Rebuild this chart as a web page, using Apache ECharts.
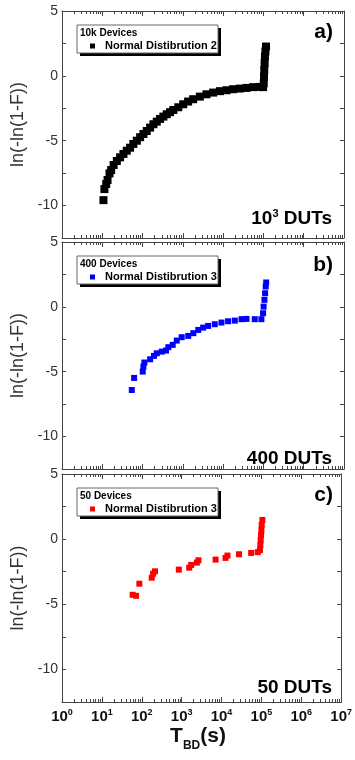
<!DOCTYPE html>
<html>
<head>
<meta charset="utf-8">
<script src="https://cdn.jsdelivr.net/npm/echarts@6/dist/echarts.min.js"></script>
<style>
  html, body { margin: 0; padding: 0; background: #fff; }
  #chart { width: 355px; height: 760px; }
</style>
</head>
<body>
<div id="chart"></div>
<script>
// Weibull plots of T_BD: [T_BD (s), ln(-ln(1-F))]
const pointsA = [
  [10.7, -9.58], [11.3, -8.73], [12.5, -8.34], [13.5, -8.03], [15.1, -7.52], [16.6, -7.26],
  [19.1, -6.87], [23, -6.56], [27.7, -6.28], [33.5, -6.02], [40.5, -5.77], [49, -5.54],
  [59, -5.25], [72, -5.0], [87, -4.73], [105, -4.48], [127, -4.25], [154, -3.99],
  [186, -3.73], [225, -3.53], [272, -3.32], [329, -3.14], [398, -2.96], [481, -2.8],
  [581, -2.63], [770, -2.42], [1020, -2.19], [1350, -1.98], [1800, -1.8], [2640, -1.6],
  [3870, -1.42], [5650, -1.29], [8300, -1.18], [12100, -1.11], [17700, -1.03], [25900, -0.98],
  [38000, -0.93], [55400, -0.87], [81000, -0.85], [98000, -0.87], [102000, -0.57], [103500, -0.05],
  [105000, 0.46], [107000, 0.98], [109000, 1.49], [112000, 1.88], [116000, 2.26]
];
const pointsB = [
  [54, -6.41], [61.6, -5.48], [101, -4.99], [105, -4.6], [111, -4.29], [154, -4.04],
  [192, -3.78], [225, -3.58], [299, -3.45], [382, -3.37], [436, -3.11], [560, -2.93],
  [705, -2.6], [935, -2.34], [1360, -2.24], [1820, -2.03], [2410, -1.78], [3190, -1.6],
  [4230, -1.47], [6200, -1.34], [9100, -1.21], [13300, -1.11], [19500, -1.06], [28600, -0.95],
  [38000, -0.93], [61000, -0.95], [89000, -0.95], [98000, -0.49], [101000, 0.02], [106000, 0.54],
  [110000, 1.05], [114000, 1.57], [117000, 1.88]
];
const pointsC = [
  [59, -4.27], [72, -4.35], [87, -3.42], [178, -2.96], [192, -2.65], [215, -2.47],
  [850, -2.34], [1550, -2.19], [1740, -1.98], [2410, -1.8], [2640, -1.62], [7100, -1.57],
  [12600, -1.44], [14100, -1.26], [27400, -1.16], [55400, -1.06], [81000, -1.0], [92000, -0.85],
  [94000, -0.46], [96000, -0.08], [98000, 0.31], [100000, 0.69], [101600, 1.08], [106000, 1.47]
];

const panelData = [pointsA, pointsB, pointsC];
const panelColors = ['#000000', '#0000ff', '#ff0000'];
const panelTags = ['a)', 'b)', 'c)'];
const dutLabels = ['{t|10}{sup|3}{t| DUTs}', '{t|400 DUTs}', '{t|50 DUTs}'];
const legendTitles = ['10k Devices', '400 Devices', '50 Devices'];
const seriesNames = ['Normal Distibrution 2', 'Normal Distibrution 3', 'Normal Distibrution 3'];
const xRange = [1, 1e7];
const yRange = [-12.5, 5];

const FONT = 'Arial, "Liberation Sans", sans-serif';
const AXIS_COLOR = '#444';
const gridTops = [11, 242, 474];
const gridHeights = [227, 227, 228];
const gridLeft = 62;
const gridRight = 11;
const tagY = [32, 265, 495];
const dutY = [219, 459, 688];

const grids = [], xAxes = [], yAxes = [], series = [], graphics = [];

panelData.forEach((pts, i) => {
  grids.push({ left: gridLeft, right: gridRight, top: gridTops[i], height: gridHeights[i], show: false });
  const isLast = i === panelData.length - 1;
  const xBase = {
    type: 'log', logBase: 10, min: xRange[0], max: xRange[1], splitNumber: 7, gridIndex: i,
    axisLine: { show: true, onZero: false, lineStyle: { color: AXIS_COLOR, width: 1 } },
    axisTick: { show: true, inside: true, length: 5, lineStyle: { color: AXIS_COLOR } },
    minorTick: { show: true, splitNumber: 9, length: 3, lineStyle: { color: AXIS_COLOR } },
    splitLine: { show: false }
  };
  xAxes.push(Object.assign({}, xBase, {
    position: 'bottom',
    axisLabel: {
      show: isLast, margin: 6, fontFamily: FONT,
      formatter: v => '{b|10}{s|' + Math.round(Math.log10(v)) + '}',
      rich: {
        b: { fontSize: 15, fontWeight: 'bold', color: '#111', fontFamily: FONT, lineHeight: 18 },
        s: { fontSize: 9, fontWeight: 'bold', color: '#111', fontFamily: FONT, verticalAlign: 'top', lineHeight: 18 }
      }
    }
  }));
  xAxes.push(Object.assign({}, xBase, { position: 'top', axisLabel: { show: false } }));

  const yBase = {
    type: 'value', min: yRange[0], max: yRange[1], interval: 2.5, gridIndex: i,
    axisLine: { show: true, onZero: false, lineStyle: { color: AXIS_COLOR, width: 1 } },
    axisTick: { show: true, inside: true, length: 4, lineStyle: { color: AXIS_COLOR } },
    splitLine: { show: false }
  };
  yAxes.push(Object.assign({}, yBase, {
    position: 'left',
    name: 'ln(-ln(1-F))', nameLocation: 'middle', nameGap: 31,
    nameTextStyle: { fontSize: 18, color: '#333', fontFamily: FONT },
    axisLabel: {
      margin: 4, fontSize: 14, color: '#333', fontFamily: FONT,
      showMinLabel: true, showMaxLabel: true,
      formatter: v => (v % 5 === 0 ? String(v) : '')
    }
  }));
  yAxes.push(Object.assign({}, yBase, { position: 'right', axisLabel: { show: false } }));

  series.push({
    type: 'scatter', name: seriesNames[i], data: pts,
    xAxisIndex: 2 * i, yAxisIndex: 2 * i,
    symbol: 'rect', symbolSize: i === 0 ? 8 : 6,
    itemStyle: { color: panelColors[i], opacity: 1 },
    emphasis: { disabled: true }
  });

  // legend box with drop shadow
  const bx = 77, by = gridTops[i] + 14, bw = 141, bh = 28;
  graphics.push(
    { type: 'rect', shape: { x: bx + 3, y: by + 3, width: bw, height: bh }, style: { fill: '#000' } },
    { type: 'rect', shape: { x: bx, y: by, width: bw, height: bh }, style: { fill: '#fff', stroke: '#666', lineWidth: 1 } },
    { type: 'text', x: bx + 3, y: by + 8, style: { text: legendTitles[i], font: 'bold 10px ' + FONT, fill: '#000', verticalAlign: 'middle' } },
    { type: 'rect', shape: { x: 90, y: by + 18.5, width: 5, height: 5 }, style: { fill: panelColors[i] } },
    { type: 'text', x: 105, y: by + 21, style: { text: seriesNames[i], font: 'bold 11px ' + FONT, fill: '#000', verticalAlign: 'middle' } },
    { type: 'text', x: 333, y: tagY[i], style: { text: panelTags[i], font: 'bold 21px ' + FONT, fill: '#000', align: 'right', verticalAlign: 'middle' } },
    {
      type: 'text', x: 332, y: dutY[i],
      style: {
        text: dutLabels[i], align: 'right', verticalAlign: 'middle',
        rich: {
          t: { font: 'bold 19px ' + FONT, fill: '#000', lineHeight: 22 },
          sup: { font: 'bold 11px ' + FONT, fill: '#000', verticalAlign: 'top', lineHeight: 22 }
        }
      }
    }
  );
});

graphics.push({
  type: 'text', x: 198, y: 739,
  style: {
    text: '{t|T}{s|BD}{t|(s)}', align: 'center', verticalAlign: 'middle',
    rich: {
      t: { font: 'bold 21px ' + FONT, fill: '#111', lineHeight: 26, verticalAlign: 'top' },
      s: { font: 'bold 12px ' + FONT, fill: '#111', lineHeight: 26, verticalAlign: 'bottom' }
    }
  }
});

const chart = echarts.init(document.getElementById('chart'), null, { renderer: 'canvas' });
chart.setOption({
  animation: false,
  backgroundColor: '#fff',
  grid: grids,
  xAxis: xAxes,
  yAxis: yAxes,
  series: series,
  graphic: graphics
});
</script>
</body>
</html>
